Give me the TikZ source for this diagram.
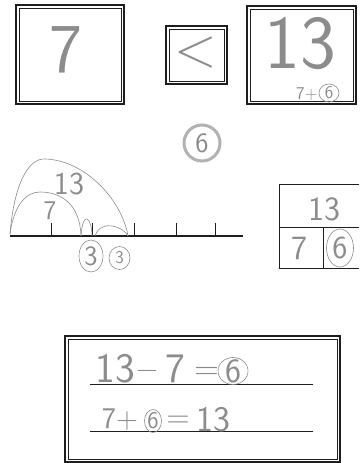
\documentclass[tikz,border=0pt]{standalone}
\usepackage{fontspec}
\usetikzlibrary{shapes.geometric,calc}
\definecolor{pencil}{HTML}{8C8C8C}
\definecolor{ink}{HTML}{1E1E1E}
\tikzset{
  frameout/.style={draw=ink, line width=1.1pt, inner sep=0pt},
  framein/.style={draw=ink, line width=0.8pt},
  hand/.style={text=pencil, inner sep=0pt, font=\sffamily},
  pen/.style={draw=pencil, line width=0.6pt},
  ringed/.style={draw=pencil, line width=0.6pt, ellipse, inner sep=0pt},
  inkline/.style={draw=ink, line width=1pt},
}
\newcommand{\innerframe}[2]{\draw[framein] ($(#1.north west)+(#2,#2)$) rectangle ($(#1.south east)+(-#2,-#2)$);}
\begin{document}
\begin{tikzpicture}[x=1pt,y=-1pt]
\useasboundingbox (0,0) rectangle (359,463);
\fill[white] (0,0) rectangle (359,463);

% top three frames
\node[frameout, minimum width=108pt, minimum height=99pt] (b1) at (70,54.5) {};
\innerframe{b1}{3.5}
\node[frameout, minimum width=61pt, minimum height=58pt] (b2) at (196.5,55) {};
\innerframe{b2}{3.5}
\node[frameout, minimum width=109pt, minimum height=98pt] (b3) at (301.5,55) {};
\innerframe{b3}{3.5}

\node[hand, font=\sffamily\fontsize{70}{70}\selectfont] (t7) at (66,50) {7};
\node[hand, font=\sffamily\fontsize{56}{56}\selectfont] (tlt) at (196,53) {<};
\node[hand, font=\sffamily\fontsize{76}{76}\selectfont] (t13) at (300,44) {13};
\node[hand, font=\sffamily\fontsize{18}{18}\selectfont, anchor=east] (t7p) at (318,94) {7+};
\node[hand, font=\sffamily\fontsize{18}{18}\selectfont] (t6s) at (329,93) {6};
\node[ringed, minimum width=20pt, minimum height=18pt] (r6s) at (t6s) {};

% circled 6
\node[hand, font=\sffamily\fontsize{28}{28}\selectfont] (c6) at (202,143) {6};
\node[draw=black!30, line width=3pt, circle, minimum size=36pt] (c6r) at (c6) {};

% number line
\coordinate (nlA) at (10,236);
\coordinate (nlB) at (243,236);
\draw[inkline, line width=1.3pt] (nlA) -- (nlB);
\foreach \tx in {51,92,134,176,215}{
  \draw[inkline] (\tx,223) -- (\tx,236);
}
\coordinate (arcA) at (10,234);
\coordinate (arcB) at (128,236);
\coordinate (arcC) at (81,236);
\coordinate (arcD) at (92,236);
\coordinate (arcE) at (95,236);
\draw[pen] (arcA) .. controls (14,185) and (28,158) .. (45,159)
           .. controls (85,160) and (122,200) .. (arcB);
\draw[pen] (arcA) .. controls (14,205) and (26,192) .. (40,192)
           .. controls (62,192) and (80,205) .. (arcC);
\draw[pen] (arcC) .. controls (82,222) and (85,218) .. (87,219)
           .. controls (90,220) and (92,228) .. (arcD);
\draw[pen] (arcE) .. controls (98,226) and (108,225) .. (112,226)
           .. controls (120,227) and (126,232) .. (arcB);
\node[hand, font=\sffamily\fontsize{32}{32}\selectfont] (a13) at (69,184) {13};
\node[hand, font=\sffamily\fontsize{27}{27}\selectfont] (a7) at (50,211) {7};
\node[hand, font=\sffamily\fontsize{28}{28}\selectfont] (d3a) at (91,256) {3};
\node[ringed, minimum width=24pt, minimum height=32pt] (d3ar) at (d3a) {};
\node[hand, font=\sffamily\fontsize{18}{18}\selectfont] (d3b) at (119.5,258) {3};
\node[ringed, minimum width=21pt, minimum height=23pt] (d3br) at (d3b) {};

% part-whole table
\coordinate (tbTL) at (279,184);
\coordinate (tbTR) at (359,184);
\coordinate (tbML) at (279,227);
\coordinate (tbMR) at (359,227);
\coordinate (tbBL) at (279,268);
\coordinate (tbBR) at (359,268);
\coordinate (tbMM) at (323,227);
\coordinate (tbBM) at (323,268);
\draw[inkline] (tbTR) -- (tbTL) -- (tbBL) -- (tbBR);
\draw[inkline] (tbML) -- (tbMR);
\draw[inkline] (tbMM) -- (tbBM);
\node[hand, font=\sffamily\fontsize{34}{34}\selectfont] (p13) at (324,209) {13};
\node[hand, font=\sffamily\fontsize{34}{34}\selectfont] (p7) at (299,248) {7};
\node[hand, font=\sffamily\fontsize{32}{32}\selectfont] (p6) at (340,248) {6};
\node[ringed, minimum width=27pt, minimum height=38pt] (p6r) at (p6) {};

% equations frame
\node[frameout, minimum width=275pt, minimum height=126pt] (b4) at (202.5,399) {};
\innerframe{b4}{3.5}
\coordinate (l1a) at (90,384);
\coordinate (l1b) at (313,384);
\coordinate (l2a) at (90,431);
\coordinate (l2b) at (313,431);
\draw[inkline] (l1a) -- (l1b);
\draw[inkline] (l2a) -- (l2b);
\node[hand, font=\sffamily\fontsize{42}{42}\selectfont] (e1a) at (115,369) {13};
\node[hand, font=\sffamily\fontsize{30}{30}\selectfont] (e1b) at (147,374) {−};
\node[hand, font=\sffamily\fontsize{42}{42}\selectfont] (e1c) at (175,369) {7};
\node[hand, font=\sffamily\fontsize{34}{34}\selectfont] (e1d) at (207,373) {=};
\node[hand, font=\sffamily\fontsize{34}{34}\selectfont] (e1six) at (233,371) {6};
\node[ringed, minimum width=30pt, minimum height=27pt] (e1r) at (e1six) {};
\node[hand, font=\sffamily\fontsize{30}{30}\selectfont] (e2a) at (120,420) {7+};
\node[hand, font=\sffamily\fontsize{24}{24}\selectfont] (e2six) at (153,421) {6};
\node[ringed, minimum width=17pt, minimum height=23pt] (e2r) at (e2six) {};
\node[hand, font=\sffamily\fontsize{32}{32}\selectfont] (e2b) at (178,422) {=};
\node[hand, font=\sffamily\fontsize{36}{36}\selectfont] (e2c) at (213,420) {13};
\end{tikzpicture}
\end{document}
